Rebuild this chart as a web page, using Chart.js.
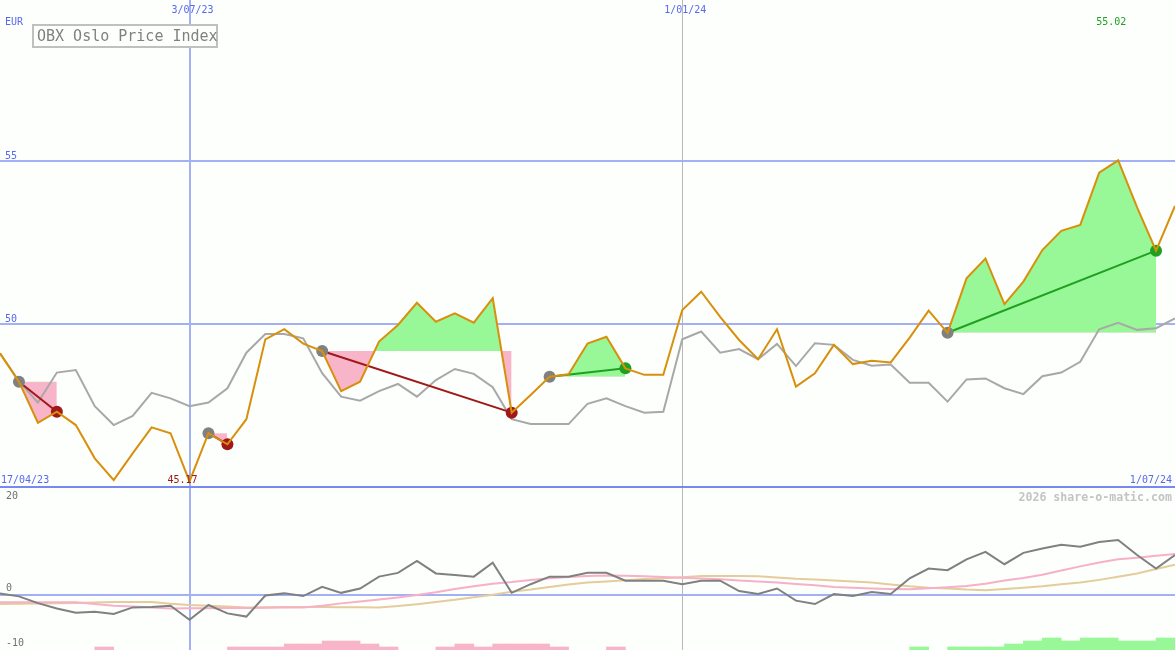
<!DOCTYPE html>
<html>
<head>
<meta charset="utf-8">
<script src="https://cdn.jsdelivr.net/npm/chart.js@4.4.1/dist/chart.umd.min.js"></script>
<style>
  body { margin: 0; background: #fcfffc; }
  #wrap { position: relative; width: 1175px; height: 650px; overflow: hidden; background: #fcfffc; }
  #main { position: absolute; left: 0; top: 0; }
  #lower { position: absolute; left: 0; top: 489px; }
</style>
</head>
<body>
<div id="wrap">
  <canvas id="lower" width="1175" height="161"></canvas>
  <canvas id="main" width="1175" height="490"></canvas>
</div>
<script>
// weekly closes, one point per week
const price = [
  49.10, 48.23, 46.97, 47.31, 46.90, 45.88, 45.21, 46.03, 46.83, 46.65,
  45.17, 46.65, 46.31, 47.08, 49.53, 49.84, 49.40, 49.17, 47.94, 48.23,
  49.46, 49.97, 50.65, 50.07, 50.33, 50.04, 50.79, 47.28, 47.82, 48.38,
  48.46, 49.40, 49.61, 48.64, 48.44, 48.44, 50.43, 50.99, 50.22, 49.51,
  48.92, 49.84, 48.08, 48.49, 49.36, 48.77, 48.87, 48.82, 49.58, 50.41,
  49.73, 51.40, 52.01, 50.61, 51.30, 52.27, 52.86, 53.04, 54.64, 55.02,
  53.58, 52.25, 53.62
];
const compare = [
  49.10, 48.25, 47.59, 48.51, 48.59, 47.48, 46.90, 47.18, 47.89, 47.72,
  47.48, 47.59, 48.03, 49.12, 49.69, 49.69, 49.56, 48.49, 47.77, 47.65,
  47.94, 48.16, 47.77, 48.28, 48.62, 48.47, 48.06, 47.08, 46.93, 46.93,
  46.93, 47.55, 47.72, 47.48, 47.28, 47.31, 49.53, 49.77, 49.12, 49.23,
  48.92, 49.39, 48.71, 49.41, 49.36, 48.90, 48.72, 48.76, 48.20, 48.20,
  47.62, 48.30, 48.33, 48.03, 47.85, 48.40, 48.51, 48.84, 49.84, 50.04,
  49.82, 49.87, 50.17
];
// lower panel
const momentum = [
  0.3, -0.25, -1.5, -2.5, -3.3, -3.1, -3.5, -2.3, -2.2, -2.0,
  -4.6, -1.85, -3.4, -4.0, -0.1, 0.3, -0.2, 1.5, 0.4, 1.2,
  3.4, 4.1, 6.3, 4.0, 3.7, 3.4, 6.0, 0.4, 2.0, 3.4,
  3.4, 4.1, 4.1, 2.65, 2.65, 2.65, 2.0, 2.65, 2.65, 0.74,
  0.18, 1.2, -1.05, -1.67, 0.18, -0.18, 0.55, 0.18, 3.1, 4.9,
  4.6, 6.6, 8.0, 5.7, 7.8, 8.6, 9.3, 8.95, 9.8, 10.2,
  7.4, 4.9, 7.4
];
const avgFast = [
  -1.35, -1.35, -1.35, -1.35, -1.35, -1.65, -2.0, -2.15, -2.3, -2.5,
  -2.45, -2.45, -2.4, -2.4, -2.35, -2.3, -2.3, -2.0, -1.55, -1.2,
  -0.85, -0.45, 0.0, 0.5, 1.1, 1.6, 2.1, 2.4, 2.8, 3.1,
  3.35, 3.5, 3.6, 3.55, 3.45, 3.35, 3.2, 3.05, 2.9, 2.7,
  2.5, 2.3, 2.05, 1.8, 1.5, 1.35, 1.2, 1.1, 1.05, 1.25,
  1.45, 1.65, 2.1, 2.7, 3.15, 3.75, 4.55, 5.3, 6.0, 6.6,
  6.9, 7.25, 7.6
];
const avgSlow = [
  -1.67, -1.62, -1.58, -1.53, -1.5, -1.4, -1.3, -1.3, -1.3, -1.6,
  -1.85, -2.0, -2.15, -2.3, -2.27, -2.23, -2.2, -2.22, -2.25, -2.28,
  -2.3, -2.05, -1.7, -1.3, -0.9, -0.4, 0.05, 0.6, 1.0, 1.5,
  1.95, 2.3, 2.5, 2.75, 2.95, 3.1, 3.3, 3.5, 3.5, 3.5,
  3.45, 3.25, 3.0, 2.85, 2.7, 2.5, 2.3, 1.95, 1.6, 1.35,
  1.2, 1.0, 0.9, 1.1, 1.35, 1.6, 2.0, 2.3, 2.8, 3.4,
  4.0, 4.8, 5.6
];
// one bar per week interval, sign gives the colour
const weekBars = [
  0, 0, 0, 0, 0, -1, 0, 0, 0, 0,
  0, 0, -1, -1, -1, -2, -2, -3, -3, -2,
  -1, 0, 0, -1, -2, -1, -2, -2, -2, -1,
  0, 0, -1, 0, 0, 0, 0, 0, 0, 0,
  0, 0, 0, 0, 0, 0, 0, 0, 1, 0,
  1, 1, 1, 2, 3, 4, 3, 4, 4, 3,
  3, 4
];
const tradeIn = [1, 11, 17, 29, 50];
const tradeOut = [3, 12, 27, 33, 61];
const dateText = ['17/04/23', '3/07/23', '1/01/24', '1/07/24'];
const dateAt = [0, 10, 36, 62];
const priceLines = [45, 50, 55];

const ORANGE = '#d8900c';
const PINK = '#f8b4c8';
const LIGHTGREEN = '#98f898';
const GRIDBLUE = '#a4b0f4';
const LABELBLUE = '#5868f0';
const WIN = '#20a020';
const LOSS = '#a01818';
const MONO = '"DejaVu Sans Mono", monospace';

const pts = arr => arr.map((v, i) => ({x: i, y: v}));

function xAxis() {
  return {
    type: 'linear', min: 0, max: price.length - 1, offset: false,
    ticks: {display: false}, border: {display: false},
    grid: {
      offset: false,
      drawTicks: false,
      color: c => (c.tick && c.tick.value === dateAt[1]) ? GRIDBLUE : '#b8b8b8',
      lineWidth: c => (c.tick && c.tick.value === dateAt[1]) ? 2 : 1
    },
    afterBuildTicks: s => { s.ticks = [{value: dateAt[1]}, {value: dateAt[2]}]; }
  };
}

// ---- main panel ----
const mainSets = [
  {data: pts(price), borderColor: ORANGE, borderWidth: 2, pointRadius: 0, order: 0},
  {data: pts(compare), borderColor: '#a8a8a8', borderWidth: 2, pointRadius: 0, order: 3}
];
tradeIn.forEach((a, k) => {
  const b = tradeOut[k];
  const lvl = price[a];
  const col = price[b] > lvl ? WIN : LOSS;
  const seg = [], flat = [];
  for (let i = a; i <= b; i++) {
    seg.push({x: i, y: price[i]});
    flat.push({x: i, y: lvl});
  }
  const flatIdx = mainSets.length;
  mainSets.push({data: flat, borderWidth: 0, borderColor: 'transparent', pointRadius: 0, fill: false, order: 4});
  mainSets.push({data: seg, borderWidth: 0, borderColor: 'transparent', pointRadius: 0, order: 4,
    fill: {target: flatIdx, above: LIGHTGREEN, below: PINK}});
  mainSets.push({data: [{x: a, y: lvl}, {x: b, y: price[b]}], borderColor: col, borderWidth: 2,
    pointRadius: 6, pointBorderWidth: 0, pointBackgroundColor: ['#808080', col], order: 1});
});

const mainText = {
  id: 'mainText',
  afterDraw(chart) {
    const {ctx, scales: {x, y}} = chart;
    ctx.save();
    ctx.font = '10px ' + MONO;
    ctx.fillStyle = LABELBLUE;
    ctx.textAlign = 'left';
    ctx.fillText('EUR', 5, 25);
    [50, 55].forEach(v => ctx.fillText(String(v), 5, y.getPixelForValue(v) - 2));
    const base = y.getPixelForValue(45) - 4;
    ctx.fillText(dateText[0], 1, base);
    ctx.textAlign = 'center';
    ctx.fillText(dateText[1], x.getPixelForValue(dateAt[1]) + 3, 13);
    ctx.fillText(dateText[2], x.getPixelForValue(dateAt[2]) + 3, 13);
    ctx.textAlign = 'right';
    ctx.fillText(dateText[3], 1172, base);

    const lo = Math.min(...price), hi = Math.max(...price);
    ctx.textAlign = 'left';
    ctx.fillStyle = LOSS;
    ctx.fillText(lo.toFixed(2), x.getPixelForValue(price.indexOf(lo)) - 22, base);
    ctx.fillStyle = WIN;
    ctx.fillText(hi.toFixed(2), x.getPixelForValue(price.indexOf(hi)) - 22, 25);

    ctx.fillStyle = '#fcfffc';
    ctx.fillRect(33, 25, 184, 22);
    ctx.strokeStyle = '#c0c0c0';
    ctx.lineWidth = 2;
    ctx.strokeRect(33, 25, 184, 22);
    ctx.fillStyle = '#808080';
    ctx.font = '15px ' + MONO;
    ctx.fillText('OBX Oslo Price Index', 37, 41);
    ctx.restore();
  }
};

new Chart(document.getElementById('main'), {
  type: 'line',
  data: {datasets: mainSets},
  options: {
    responsive: false,
    animation: false,
    layout: {padding: 0, autoPadding: false},
    elements: {line: {tension: 0}},
    plugins: {legend: {display: false}, tooltip: {enabled: false}},
    scales: {
      x: xAxis(),
      y: {
        min: 55 + 161 / 32.6 - 490 / 32.6,
        max: 55 + 161 / 32.6,
        ticks: {display: false}, border: {display: false},
        grid: {
          drawTicks: false,
          color: c => (c.tick && c.tick.value === 45) ? '#7888f0' : GRIDBLUE,
          lineWidth: 2
        },
        afterBuildTicks: s => { s.ticks = priceLines.map(v => ({value: v})); }
      }
    }
  },
  plugins: [mainText]
});

// ---- lower panel ----
const barPts = [];
weekBars.forEach((v, i) => { if (v) barPts.push({x: i + 0.5, y: Math.abs(v), up: v > 0}); });

const lowerText = {
  id: 'lowerText',
  afterDraw(chart) {
    const {ctx, scales: {y}} = chart;
    ctx.save();
    ctx.font = '10px ' + MONO;
    ctx.fillStyle = '#707070';
    ctx.fillText('20', 6, 10);
    ctx.fillText('0', 6, y.getPixelForValue(0) - 4);
    ctx.fillText('-10', 6, y.getPixelForValue(-10) - 3);
    ctx.font = 'bold 11.6px ' + MONO;
    ctx.fillStyle = '#c4c4c4';
    ctx.textAlign = 'right';
    ctx.fillText('2026 share-o-matic.com', 1172, 12);
    ctx.restore();
  }
};

new Chart(document.getElementById('lower'), {
  type: 'line',
  data: {
    datasets: [
      {data: pts(momentum), borderColor: '#808080', borderWidth: 2, pointRadius: 0, order: 0},
      {data: pts(avgFast), borderColor: '#f8b0c8', borderWidth: 2, pointRadius: 0, order: 1},
      {data: pts(avgSlow), borderColor: '#e4cc9c', borderWidth: 2, pointRadius: 0, order: 2},
      {type: 'bar', data: barPts, yAxisID: 'yb', order: 3,
        backgroundColor: c => (c.raw && c.raw.up) ? LIGHTGREEN : PINK,
        barPercentage: 1, categoryPercentage: 1}
    ]
  },
  options: {
    responsive: false,
    animation: false,
    layout: {padding: 0, autoPadding: false},
    elements: {line: {tension: 0}},
    plugins: {legend: {display: false}, tooltip: {enabled: false}},
    scales: {
      x: xAxis(),
      y: {
        min: 19.63 - 161 / 5.4, max: 19.63,
        ticks: {display: false}, border: {display: false},
        grid: {drawTicks: false, color: GRIDBLUE, lineWidth: 2},
        afterBuildTicks: s => { s.ticks = [{value: 0}]; }
      },
      yb: {display: false, min: 0, max: 161 / 3}
    }
  },
  plugins: [lowerText]
});
</script>
</body>
</html>
